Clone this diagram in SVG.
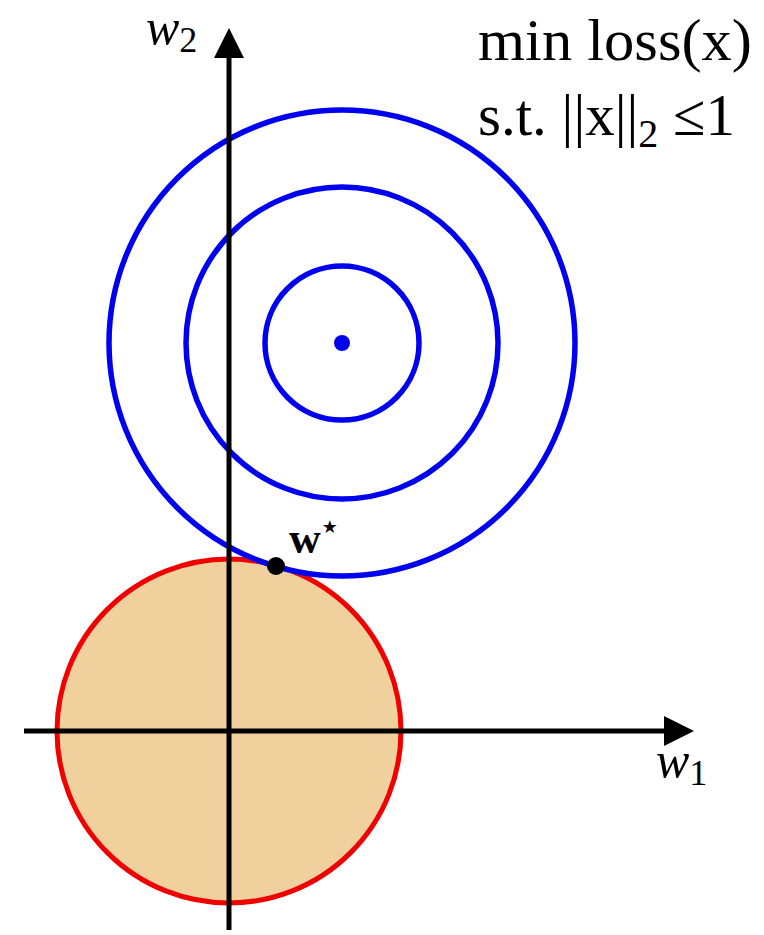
<svg xmlns="http://www.w3.org/2000/svg" width="764" height="935" viewBox="0 0 764 935">
<defs>
<style>
.blue{fill:none;stroke:#0000f0;stroke-width:5.5}
.axis{stroke:#000;stroke-width:5;fill:none}
.lbl{font-family:"Liberation Serif","DejaVu Serif",serif;fill:#000}
</style>
<marker id="ah" viewBox="0 0 10 10" refX="2" refY="5" markerWidth="6" markerHeight="6" orient="auto" markerUnits="strokeWidth"><path d="M0,0 L10,5 L0,10 z" fill="#000"/></marker>
</defs>
<rect width="764" height="935" fill="#fff"/>
<g id="constraint"><circle cx="229" cy="731" r="172" fill="#f0d09c" stroke="#f00000" stroke-width="5"/></g>
<g id="contours">
<circle class="blue" cx="342" cy="343" r="77"/>
<circle class="blue" cx="342" cy="343" r="156"/>
<circle class="blue" cx="342" cy="343" r="233"/>
<circle cx="342" cy="343" r="8" fill="#0000f0"/>
</g>
<g id="connectors">
<line class="axis" x1="229" y1="930" x2="229" y2="52" marker-end="url(#ah)"/>
<line class="axis" x1="24" y1="731" x2="670" y2="731" marker-end="url(#ah)"/>
</g>
<g id="optimum">
<circle cx="276" cy="566" r="9" fill="#000"/>
<text class="lbl" x="289" y="553" font-size="44" font-weight="bold">w<tspan font-size="28" dy="-17">⋆</tspan></text>
</g>
<g id="labels">
<text class="lbl" x="146" y="44" font-size="50" font-style="italic">w<tspan font-size="36" font-style="normal" dy="8">2</tspan></text>
<text class="lbl" x="656" y="777" font-size="50" font-style="italic">w<tspan font-size="36" font-style="normal" dy="8">1</tspan></text>
<text class="lbl" x="478" y="60" font-size="59" textLength="274" lengthAdjust="spacingAndGlyphs">min loss(x)</text>
<text class="lbl" x="478" y="135" font-size="59">s.t. ||x||<tspan font-size="40" dy="12">2</tspan><tspan dy="-12"> ≤1</tspan></text>
</g>
</svg>
